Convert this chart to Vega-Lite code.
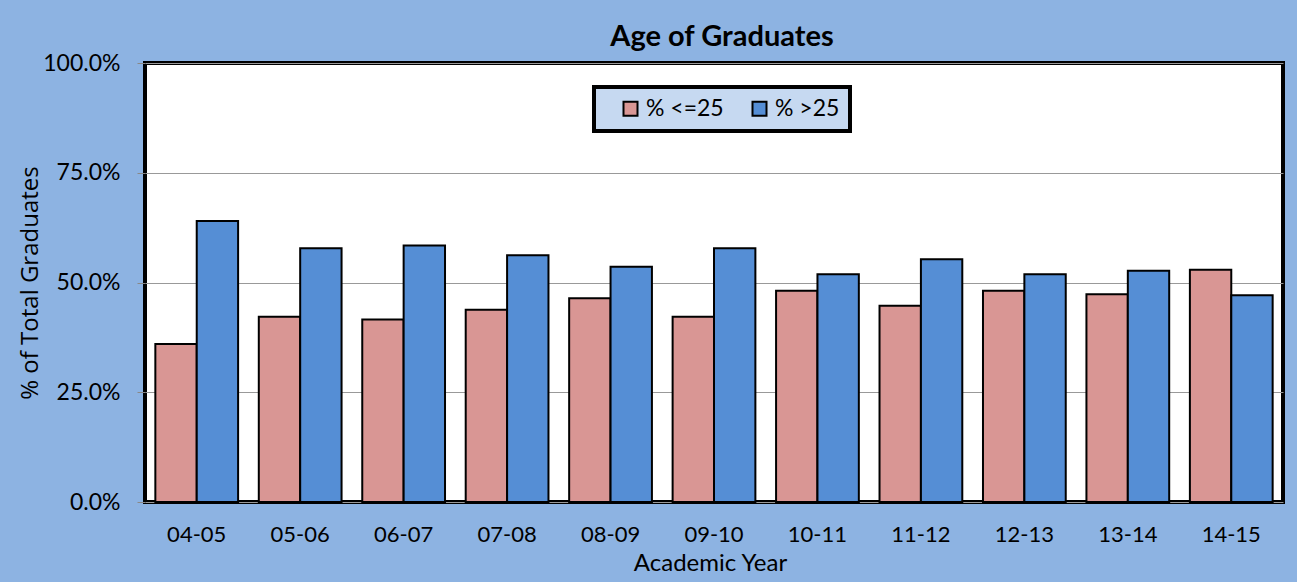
{
  "$schema": "https://vega.github.io/schema/vega-lite/v6.json",
  "width": 1138,
  "height": 439,
  "autosize": {"type": "none"},
  "padding": {"left": 145, "top": 63, "right": 14, "bottom": 80},
  "background": "#8DB3E2",
  "title": {
    "text": "Age of Graduates",
    "font": "Lato",
    "fontSize": 29,
    "fontWeight": "bold",
    "color": "black",
    "anchor": "middle",
    "offset": 0,
    "dx": 8
  },
  "data": {
    "values": [
      {"year": "04-05", "group": "% <=25", "pct": 0.360},
      {"year": "04-05", "group": "% >25", "pct": 0.640},
      {"year": "05-06", "group": "% <=25", "pct": 0.422},
      {"year": "05-06", "group": "% >25", "pct": 0.578},
      {"year": "06-07", "group": "% <=25", "pct": 0.416},
      {"year": "06-07", "group": "% >25", "pct": 0.584},
      {"year": "07-08", "group": "% <=25", "pct": 0.438},
      {"year": "07-08", "group": "% >25", "pct": 0.562},
      {"year": "08-09", "group": "% <=25", "pct": 0.464},
      {"year": "08-09", "group": "% >25", "pct": 0.536},
      {"year": "09-10", "group": "% <=25", "pct": 0.422},
      {"year": "09-10", "group": "% >25", "pct": 0.578},
      {"year": "10-11", "group": "% <=25", "pct": 0.481},
      {"year": "10-11", "group": "% >25", "pct": 0.519},
      {"year": "11-12", "group": "% <=25", "pct": 0.447},
      {"year": "11-12", "group": "% >25", "pct": 0.553},
      {"year": "12-13", "group": "% <=25", "pct": 0.481},
      {"year": "12-13", "group": "% >25", "pct": 0.519},
      {"year": "13-14", "group": "% <=25", "pct": 0.473},
      {"year": "13-14", "group": "% >25", "pct": 0.527},
      {"year": "14-15", "group": "% <=25", "pct": 0.529},
      {"year": "14-15", "group": "% >25", "pct": 0.471}
    ]
  },
  "mark": {"type": "bar", "stroke": "black", "strokeWidth": 2},
  "encoding": {
    "x": {
      "field": "year",
      "type": "nominal",
      "sort": null,
      "scale": {"paddingInner": 0.2, "paddingOuter": 0.1},
      "axis": {
        "title": "Academic Year",
        "labelAngle": 0,
        "ticks": false,
        "domain": false,
        "labelPadding": 22,
        "titlePadding": 6,
        "labelFont": "Lato",
        "labelFontSize": 22,
        "labelColor": "black",
        "titleFont": "Lato",
        "titleFontSize": 24,
        "titleFontWeight": "normal",
        "titleColor": "black",
        "titleX": 565
      }
    },
    "xOffset": {"field": "group", "type": "nominal", "sort": ["% <=25", "% >25"]},
    "y": {
      "field": "pct",
      "type": "quantitative",
      "scale": {"domain": [0, 1], "nice": false},
      "axis": {
        "title": "% of Total Graduates",
        "format": ".1%",
        "values": [0, 0.25, 0.5, 0.75, 1],
        "domain": false,
        "tickSize": 8,
        "tickColor": "#888888",
        "labelPadding": 17,
        "titlePadding": 0,
        "grid": true,
        "gridColor": "#999999",
        "gridWidth": 1,
        "labelFont": "Lato",
        "labelFontSize": 23,
        "labelColor": "black",
        "titleFont": "Open Sans",
        "titleFontSize": 24,
        "titleFontWeight": "normal",
        "titleColor": "black"
      }
    },
    "color": {
      "field": "group",
      "type": "nominal",
      "scale": {"domain": ["% <=25", "% >25"], "range": ["#D99694", "#558ED5"]},
      "legend": {
        "title": null,
        "orient": "none",
        "legendX": 449,
        "legendY": 24,
        "direction": "horizontal",
        "fillColor": "#C6D9F1",
        "strokeColor": "black",
        "padding": 10,
        "symbolType": "square",
        "symbolSize": 196,
        "symbolOffset": 15,
        "symbolStrokeColor": "black",
        "symbolStrokeWidth": 2,
        "symbolOpacity": 1,
        "labelFont": "Lato",
        "labelFontSize": 23,
        "labelColor": "black",
        "labelOffset": 4,
        "columnPadding": 9
      }
    }
  },
  "config": {
    "view": {"stroke": "black", "strokeWidth": 4, "fill": "white"},
    "legend": {"strokeWidth": 4}
  }
}
